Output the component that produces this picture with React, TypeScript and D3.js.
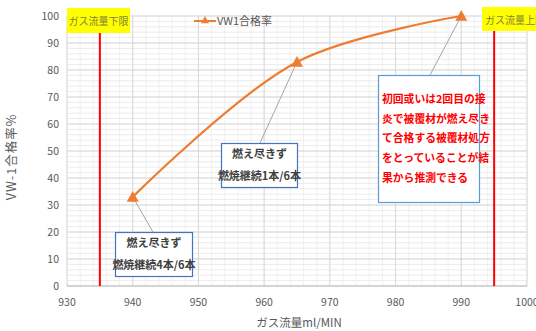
import React from "react";
import * as d3 from "d3";

const flows = [940, 965, 990];
const passRates = [33, 83, 100];
const xTicks = [930, 940, 950, 960, 970, 980, 990, 1000];
const yTicks = [0, 10, 20, 30, 40, 50, 60, 70, 80, 90, 100];
const lowerLimit = 935;
const upperLimit = 995;
const seriesName = "VW1合格率";
const notes1 = ["燃え尽きず", "燃焼継続4本/6本"];
const notes2 = ["燃え尽きず", "燃焼継続1本/6本"];
const notes3 = [
  "初回或いは2回目の接",
  "炎で被覆材が燃え尽き",
  "て合格する被覆材処方",
  "をとっていることが結",
  "果から推測できる",
];

const W = 536;
const H = 331;
const FONT = "'Noto Sans CJK JP', 'Noto Sans', sans-serif";
const ORANGE = "#ed7d31";

export default function App() {
  const x = d3.scaleLinear().domain([930, 1000]).range([67, 527]);
  const y = d3.scaleLinear().domain([0, 100]).range([286, 16]);

  const minorX = d3.range(930, 1000.1, 2);
  const minorY = d3.range(0, 100.1, 2);

  const pts: [number, number][] = flows.map((f, i) => [x(f), y(passRates[i])]);
  const line = d3.line().curve(d3.curveCatmullRom.alpha(0.5))(pts) as string;

  const tri = (cx: number, cy: number, s: number) =>
    `M${cx},${cy - s}L${cx + s},${cy + s * 0.8}L${cx - s},${cy + s * 0.8}Z`;

  return (
    <svg width={W} height={H} style={{ position: "absolute", left: 0, top: 0, background: "#fff" }}>
      <rect width={W} height={H} fill="#fff" />
      {/* minor grid */}
      {minorX.map((v) => (
        <line key={"mx" + v} x1={x(v)} x2={x(v)} y1={y(0)} y2={y(100)} stroke="#f0f0f0" strokeWidth={1} />
      ))}
      {minorY.map((v) => (
        <line key={"my" + v} x1={x(930)} x2={x(1000)} y1={y(v)} y2={y(v)} stroke="#ececec" strokeWidth={1} />
      ))}
      {/* major grid */}
      {xTicks.map((v) => (
        <line key={"gx" + v} x1={x(v)} x2={x(v)} y1={y(0)} y2={y(100)} stroke="#d9d9d9" strokeWidth={1} />
      ))}
      {yTicks.map((v) => (
        <line key={"gy" + v} x1={x(930)} x2={x(1000)} y1={y(v)} y2={y(v)} stroke="#d9d9d9" strokeWidth={1} />
      ))}
      <line x1={x(930)} x2={x(1000)} y1={y(0)} y2={y(0)} stroke="#bfbfbf" strokeWidth={1} />

      {/* tick labels */}
      {yTicks.map((v) => (
        <text key={"ty" + v} x={59} y={y(v) + 4} textAnchor="end" fontSize={10.5} fill="#595959" fontFamily={FONT}>
          {v}
        </text>
      ))}
      {xTicks.map((v) => (
        <text key={"tx" + v} x={x(v)} y={306} textAnchor="middle" fontSize={10.5} fill="#595959" fontFamily={FONT}>
          {v}
        </text>
      ))}

      {/* axis titles */}
      <text
        transform={`translate(16,${157}) rotate(-90)`}
        textAnchor="middle"
        fontSize={12.5}
        letterSpacing={1}
        fill="#595959"
        fontFamily={FONT}
      >
        VW-1合格率%
      </text>
      <text x={299} y={327} textAnchor="middle" fontSize={11.5} fill="#595959" fontFamily={FONT}>
        ガス流量ml/MIN
      </text>

      {/* flow limits */}
      <line x1={x(lowerLimit)} x2={x(lowerLimit)} y1={33} y2={y(0)} stroke="#ff0000" strokeWidth={2} />
      <line x1={x(upperLimit)} x2={x(upperLimit)} y1={31} y2={y(0)} stroke="#ff0000" strokeWidth={2} />
      <rect x={67} y={8} width={63} height={25} fill="#ffff00" />
      <text x={98.5} y={24.5} textAnchor="middle" fontSize={10} fill="#7f7f3f" fontFamily={FONT}>
        ガス流量下限
      </text>
      <rect x={482} y={7} width={60} height={24} fill="#ffff00" />
      <text x={485} y={23.5} fontSize={10} fill="#7f7f3f" fontFamily={FONT}>
        ガス流量上限
      </text>

      {/* legend */}
      <line x1={194} x2={216} y1={21} y2={21} stroke={ORANGE} strokeWidth={2} />
      <path d={tri(205, 20, 4)} fill={ORANGE} />
      <text x={217} y={25} fontSize={11} fill="#595959" fontFamily={FONT}>
        {seriesName}
      </text>

      {/* leader lines */}
      <line x1={153} y1={232} x2={x(flows[0])} y2={y(passRates[0])} stroke="#a5a5a5" strokeWidth={1} />
      <line x1={260} y1={143} x2={x(flows[1])} y2={y(passRates[1])} stroke="#a5a5a5" strokeWidth={1} />
      <line x1={430} y1={75} x2={x(flows[2])} y2={y(passRates[2])} stroke="#a5a5a5" strokeWidth={1} />

      {/* series */}
      <path d={line} fill="none" stroke={ORANGE} strokeWidth={2.25} />
      {pts.map(([px, py], i) => (
        <path key={"m" + i} d={tri(px, py, 6)} fill={ORANGE} />
      ))}

      {/* annotation boxes */}
      <rect x={115.5} y={232.5} width={77} height={44} fill="#fff" stroke="#4472c4" strokeWidth={1.2} />
      {notes1.map((t, i) => (
        <text key={"n1" + i} x={154} y={247 + i * 22} textAnchor="middle" fontSize={11} fontWeight="bold" fill="#404040" fontFamily={FONT}>
          {t}
        </text>
      ))}
      <rect x={221.5} y={143.5} width={76} height={44} fill="#fff" stroke="#4472c4" strokeWidth={1.2} />
      {notes2.map((t, i) => (
        <text key={"n2" + i} x={259.5} y={158 + i * 22} textAnchor="middle" fontSize={11} fontWeight="bold" fill="#404040" fontFamily={FONT}>
          {t}
        </text>
      ))}
      <rect x={378.5} y={75.5} width={101} height={127} fill="#fff" stroke="#5b9bd5" strokeWidth={1.2} />
      {notes3.map((t, i) => (
        <text key={"n3" + i} x={382} y={103 + i * 19.7} fontSize={10.8} fontWeight="bold" fill="#ff0000" fontFamily={FONT}>
          {t}
        </text>
      ))}
    </svg>
  );
}
